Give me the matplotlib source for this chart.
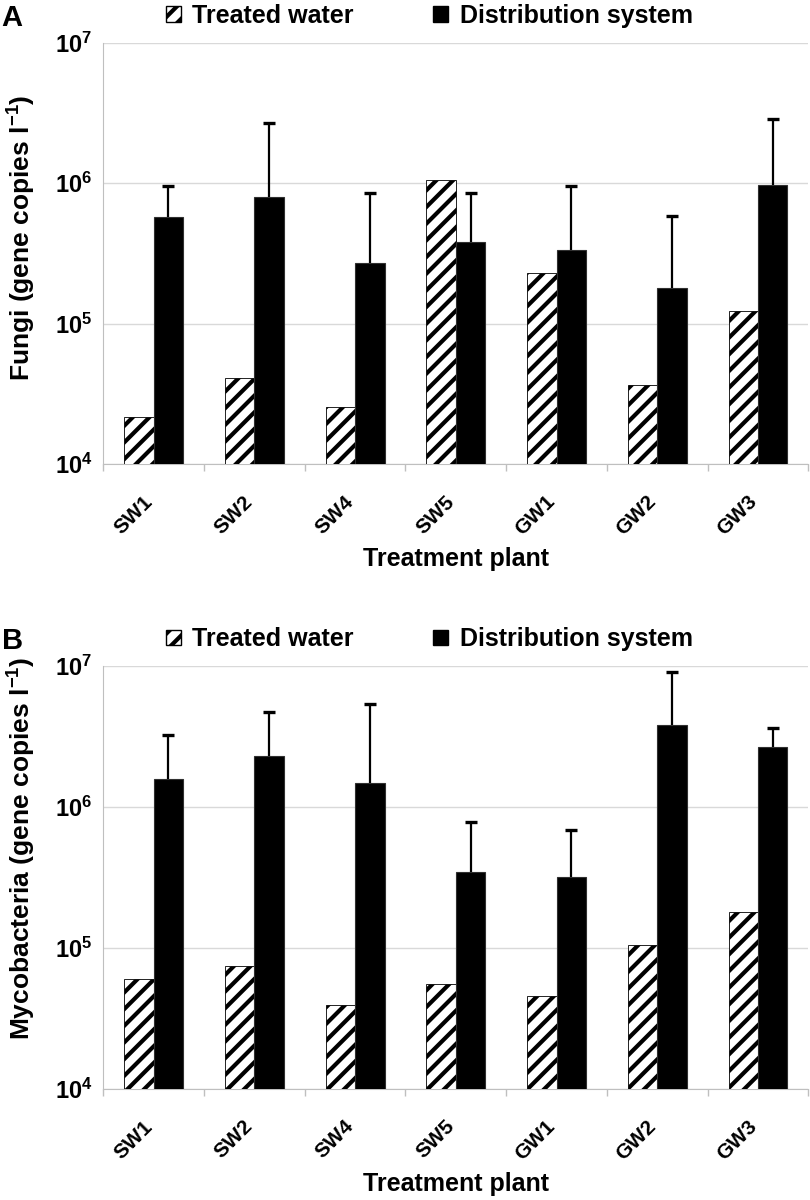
import numpy as np
import matplotlib
matplotlib.use('Agg')
import matplotlib.pyplot as plt
from matplotlib.patches import Patch
from matplotlib.transforms import ScaledTranslation
from matplotlib.ticker import LogLocator, LogFormatterSciNotation, NullLocator, FixedLocator

plants = ['SW1', 'SW2', 'SW4', 'SW5', 'GW1', 'GW2', 'GW3']

# panel A: fungi
fungi_treated = [2.16e4, 4.12e4, 2.55e4, 1.05e6, 2.29e5, 3.68e4, 1.23e5]
fungi_dist = [5.7e5, 7.95e5, 2.68e5, 3.82e5, 3.33e5, 1.78e5, 9.7e5]
fungi_dist_top = [9.5e5, 2.7e6, 8.5e5, 8.5e5, 9.5e5, 5.8e5, 2.88e6]

# panel B: mycobacteria
myco_treated = [6.0e4, 7.4e4, 3.93e4, 5.55e4, 4.59e4, 1.05e5, 1.79e5]
myco_dist = [1.57e6, 2.29e6, 1.49e6, 3.46e5, 3.2e5, 3.84e6, 2.67e6]
myco_dist_top = [3.22e6, 4.74e6, 5.35e6, 7.87e5, 6.84e5, 9.07e6, 3.65e6]

FONT = ['Liberation Sans', 'DejaVu Sans']

plt.rcParams['mathtext.default'] = 'regular'
plt.rcParams['hatch.linewidth'] = 3.0
plt.rcParams['hatch.color'] = 'black'

fig = plt.figure(figsize=(8.1, 12), dpi=100)

grid_c = '#d9d9d9'
axis_c = '#bfbfbf'


def panel(rect, letter, ylabel, ylabel_y, treated, dist, dist_top):
    ax = fig.add_axes(rect)
    x = np.arange(len(plants))
    w = 0.292
    ax.bar(x - w / 2, treated, w, color='white', edgecolor='black',
           linewidth=0.6, hatch='//', zorder=3)
    ax.bar(x + w / 2, dist, w, color='black', edgecolor='#303030', linewidth=0.8, zorder=3)
    # upper error bars only
    ax.vlines(x + w / 2, dist, dist_top, color='black', linewidth=1.6, zorder=4)
    ax.plot(x + w / 2, dist_top, linestyle='none', marker='_', markersize=8,
            markeredgewidth=2.4, color='black', zorder=4)

    ax.set_yscale('log')
    ax.set_ylim(1e4, 1e7)
    ax.set_xlim(-0.5, len(plants) - 0.5)
    ax.yaxis.set_major_locator(LogLocator(base=10, numticks=10))
    ax.yaxis.set_minor_locator(NullLocator())
    ax.yaxis.set_major_formatter(LogFormatterSciNotation())
    ax.grid(axis='y', color=grid_c, linewidth=1, zorder=0)
    ax.set_axisbelow(True)
    for s in ['top', 'right']:
        ax.spines[s].set_visible(False)
    ax.spines['left'].set_color(axis_c)
    ax.spines['bottom'].set_color(axis_c)
    ax.tick_params(axis='y', length=0, pad=8)
    for t in ax.get_yticklabels():
        t.set_fontfamily(FONT)
        t.set_fontweight('bold')
        t.set_fontsize(17)

    ax.set_xticks(x)
    ax.set_xticklabels(plants, rotation=45, ha='right', rotation_mode='anchor',
                       fontfamily=FONT, fontweight='bold', fontsize=15)
    ax.tick_params(axis='x', which='major', length=0, pad=20)
    shift = ScaledTranslation(-8 / 72, 0, fig.dpi_scale_trans)
    for t in ax.get_xticklabels():
        t.set_transform(t.get_transform() + shift)
    ax.xaxis.set_minor_locator(FixedLocator(np.arange(-0.5, len(plants), 1.0)))
    ax.tick_params(axis='x', which='minor', length=5, color=axis_c, width=1)

    ax.set_xlabel('Treatment plant', fontfamily=FONT, fontweight='bold',
                  fontsize=18, labelpad=6)
    ax.set_ylabel(ylabel, fontfamily=FONT, fontweight='bold', fontsize=19)
    ax.yaxis.set_label_coords(-0.093, ylabel_y)

    handles = [Patch(facecolor='white', edgecolor='black', hatch='//', linewidth=1),
               Patch(facecolor='black', edgecolor='black')]
    ax.legend(handles, ['Treated water', 'Distribution system'], loc='center',
              bbox_to_anchor=(0.462, 1.063), ncol=2, frameon=False,
              prop={'family': FONT, 'weight': 'bold', 'size': 18},
              handlelength=0.6, handleheight=0.6, handletextpad=0.45,
              columnspacing=3.2, borderaxespad=0)
    fig.text(0.002, rect[1] + rect[3] + 0.021, letter, fontfamily=FONT,
             fontweight='bold', fontsize=21, va='center', ha='left')
    return ax


panel([0.1275, 0.6133, 0.8705, 0.3511], 'A', 'Fungi (gene copies l$^{-1}$)', 0.536,
      fungi_treated, fungi_dist, fungi_dist_top)
panel([0.1275, 0.0925, 0.8705, 0.3525], 'B', 'Mycobacteria (gene copies l$^{-1}$)', 0.57,
      myco_treated, myco_dist, myco_dist_top)

fig.savefig('out.png', dpi=100)
